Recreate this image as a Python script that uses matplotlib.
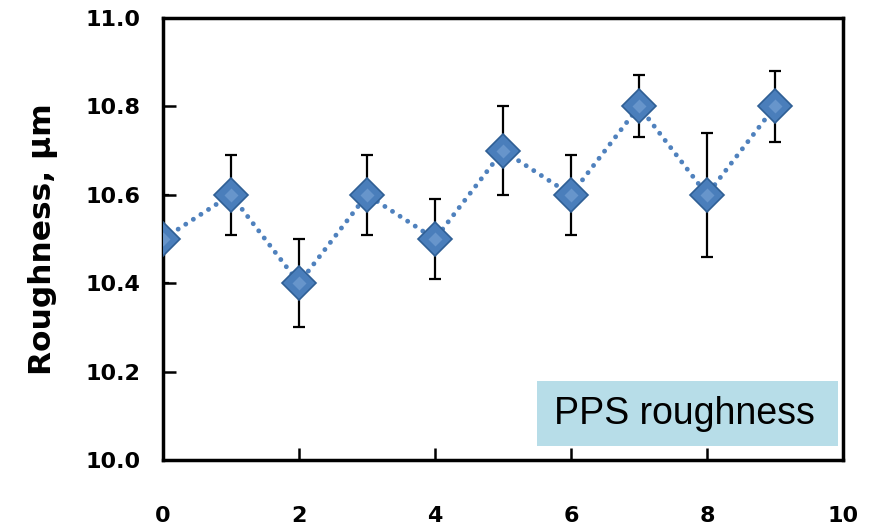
import matplotlib
matplotlib.use("Agg")
import matplotlib.pyplot as plt
from matplotlib.patches import Rectangle

x_vals = [0, 1, 2, 3, 4, 5, 6, 7, 8, 9]
roughness = [10.5, 10.6, 10.4, 10.6, 10.5, 10.7, 10.6, 10.8, 10.6, 10.8]
err_up = [0.10, 0.09, 0.10, 0.09, 0.09, 0.10, 0.09, 0.07, 0.14, 0.08]
err_down = [0.10, 0.09, 0.10, 0.09, 0.09, 0.10, 0.09, 0.07, 0.14, 0.08]
x_ticks = [0, 2, 4, 6, 8, 10]
y_ticks = [10.0, 10.2, 10.4, 10.6, 10.8, 11.0]
y_label = "Roughness, μm"
box_label = "PPS roughness"

fig = plt.figure(figsize=(8.77, 5.30), dpi=100)
ax = fig.add_axes([163/877, 70/530, 680/877, 442/530])

ax.plot(x_vals, roughness, color="#4f81bd", lw=3.5,
        linestyle=(0, (0.01, 1.85)), dash_capstyle="round", zorder=2)
ax.errorbar(x_vals, roughness, yerr=[err_down, err_up], fmt="none",
            ecolor="black", elinewidth=1.6, capsize=4.5, capthick=1.6, zorder=3)
ax.plot(x_vals, roughness, linestyle="none", marker="D", markersize=17,
        markerfacecolor="#4a7ebb", markeredgecolor="#2f5f95",
        markeredgewidth=1.2, zorder=4)
ax.plot(x_vals, roughness, linestyle="none", marker="D", markersize=7,
        markerfacecolor="#6f9bd0", markeredgecolor="none", alpha=0.8, zorder=5)

ax.set_xlim(0, 10)
ax.set_ylim(10.0, 11.0)
ax.set_xticks(x_ticks)
ax.set_yticks(y_ticks)
ax.set_xticklabels([f"{t:d}" for t in x_ticks], fontsize=16, fontweight="bold")
ax.set_yticklabels([f"{t:.1f}" for t in y_ticks], fontsize=16, fontweight="bold")
ax.tick_params(axis="both", direction="in", length=9, width=1.8)
ax.tick_params(axis="x", pad=33)
ax.tick_params(axis="y", pad=16)
for s in ax.spines.values():
    s.set_linewidth(2.5)
ax.set_ylabel(y_label, fontsize=22.5, fontweight="bold", labelpad=20)

ax.add_patch(Rectangle((374/680, 14/442), 301/680, 65/442, transform=ax.transAxes,
                       facecolor="#b7dde8", edgecolor="none", zorder=6))
ax.text(521/680, 46.5/442, box_label, transform=ax.transAxes, ha="center",
        va="center", fontsize=27, family="Liberation Sans", zorder=7)

fig.savefig("out.png", dpi=100)
